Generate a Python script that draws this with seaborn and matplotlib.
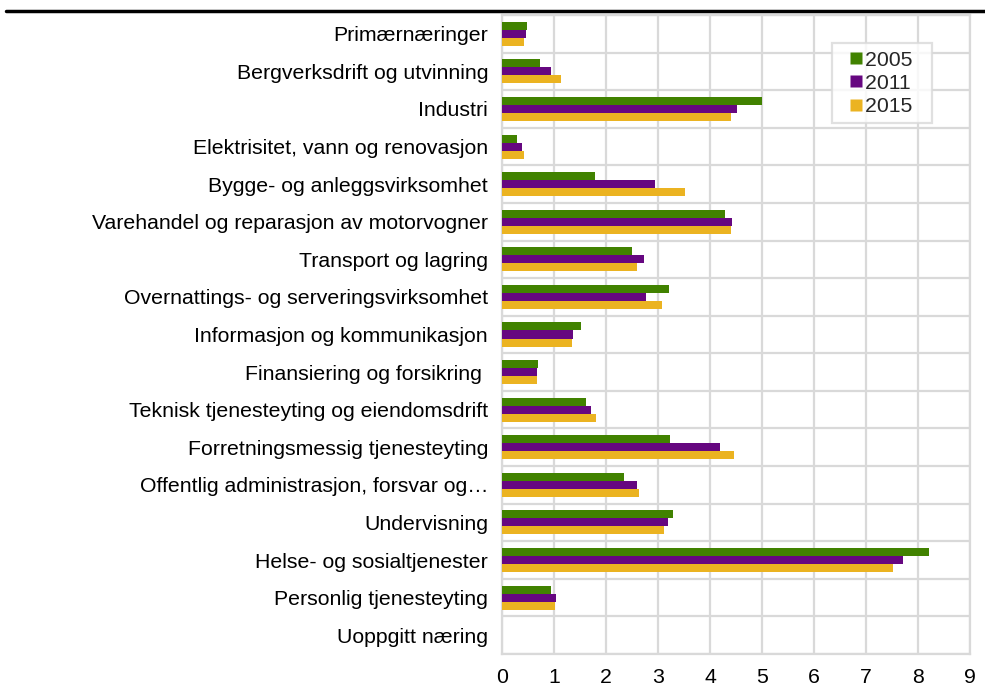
import matplotlib
matplotlib.use("Agg")
import matplotlib.pyplot as plt
from matplotlib.lines import Line2D
import numpy as np
import pandas as pd
import seaborn as sns

# --- Data (andel, lest av figuren) ---
naeringer = [
    "Primærnæringer",
    "Bergverksdrift og utvinning",
    "Industri",
    "Elektrisitet, vann og renovasjon",
    "Bygge- og anleggsvirksomhet",
    "Varehandel og reparasjon av motorvogner",
    "Transport og lagring",
    "Overnattings- og serveringsvirksomhet",
    "Informasjon og kommunikasjon",
    "Finansiering og forsikring ",
    "Teknisk tjenesteyting og eiendomsdrift",
    "Forretningsmessig tjenesteyting",
    "Offentlig administrasjon, forsvar og…",
    "Undervisning",
    "Helse- og sosialtjenester",
    "Personlig tjenesteyting",
    "Uoppgitt næring",
]
aar = ["2005", "2011", "2015"]
v2005 = [0.49, 0.74, 5.00, 0.29, 1.79, 4.29, 2.50, 3.21, 1.51, 0.69, 1.62, 3.24, 2.35, 3.28, 8.21, 0.94, 0.0]
v2011 = [0.47, 0.94, 4.51, 0.39, 2.95, 4.43, 2.74, 2.76, 1.36, 0.68, 1.71, 4.19, 2.59, 3.19, 7.72, 1.03, 0.0]
v2015 = [0.42, 1.13, 4.40, 0.42, 3.51, 4.40, 2.59, 3.07, 1.34, 0.68, 1.80, 4.46, 2.63, 3.11, 7.52, 1.02, 0.0]
farger = ["#418200", "#660780", "#EBB321"]

df = pd.DataFrame({
    "naering": naeringer * 3,
    "aar": [a for a in aar for _ in naeringer],
    "verdi": v2005 + v2011 + v2015,
})

sns.set_style("white")
plt.rcParams["font.family"] = ["Liberation Sans", "DejaVu Sans"]

fig = plt.figure(figsize=(9.85, 6.92), dpi=100)
ax = fig.add_axes([502 / 985, 1 - 654 / 692, 468 / 985, 639 / 692])

sns.barplot(data=df, y="naering", x="verdi", hue="aar", orient="h",
            palette=farger, width=0.64, saturation=1, edgecolor="none",
            ax=ax, zorder=3, legend=False)

ax.set_xlim(0, 9)
ax.set_ylim(16.5, -0.5)
ax.set_xticks(range(10))
ax.set_yticks(range(len(naeringer)))
ax.set_yticklabels(naeringer)
ax.set_yticks(np.arange(-0.5, len(naeringer), 1), minor=True)
ax.tick_params(axis="both", which="both", length=0, labelsize=15.3, colors="black")
ax.tick_params(axis="y", pad=10)
ax.tick_params(axis="x", pad=10)
ax.set_xlabel("")
ax.set_ylabel("")

ax.grid(axis="x", which="major", color="#d9d9d9", linewidth=1.6, zorder=0)
ax.grid(axis="y", which="minor", color="#d9d9d9", linewidth=1.6, zorder=0)
ax.grid(axis="y", which="major", visible=False)
for s in ax.spines.values():
    s.set_color("#d9d9d9")
    s.set_linewidth(1.6)

# legende med kvadratiske symboler
handles = [Line2D([], [], marker="s", linestyle="none", markersize=8.5,
                  markerfacecolor=c, markeredgecolor="none") for c in farger]
leg = ax.legend(handles, [a + "  " for a in aar], loc="upper right",
                bbox_to_anchor=(0.919, 0.956), fontsize=15.3,
                frameon=True, fancybox=False, edgecolor="#d9d9d9",
                handlelength=1.5, handletextpad=-0.3,
                labelspacing=0.2, borderpad=0.35, borderaxespad=0)
leg.get_frame().set_linewidth(1.6)

# svart linje over figuren
fig.add_artist(Line2D([6 / 985, 1], [1 - 11 / 692, 1 - 11 / 692],
                      color="black", linewidth=2.5, transform=fig.transFigure))

fig.savefig("out.png", dpi=100)
